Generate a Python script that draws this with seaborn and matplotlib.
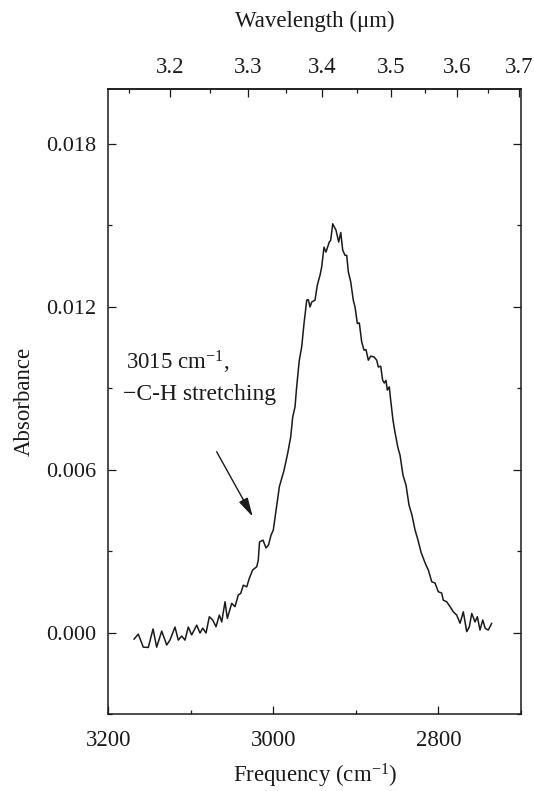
import matplotlib
matplotlib.use("Agg")
import matplotlib.pyplot as plt
from matplotlib.ticker import MultipleLocator, FixedLocator, FormatStrFormatter
import numpy as np
import pandas as pd
import seaborn as sns

# IR absorption spectrum of the C-H stretching band
frequency = [
    3168.9, 3163.7, 3157.6, 3151.5, 3145.8, 3141.4, 3135.3, 3129.2, 3125.3, 3119.2,
    3115.2, 3111.1, 3107.1, 3103.1, 3099.0, 3092.9, 3088.9, 3085.6, 3081.6, 3077.6,
    3073.5, 3069.5, 3065.5, 3062.6, 3058.6, 3055.8, 3050.5, 3046.5, 3042.5, 3039.6,
    3036.4, 3032.3, 3029.2, 3025.1, 3020.2, 3018.3, 3016.8, 3012.6, 3008.9, 3005.9,
    3002.9, 3000.1, 2996.8, 2992.8, 2987.1, 2982.7, 2979.0, 2976.6, 2973.8, 2971.8,
    2968.6, 2965.7, 2962.9, 2959.6, 2957.7, 2955.6, 2953.6, 2949.6, 2946.8, 2943.5,
    2941.5, 2938.7, 2936.3, 2932.3, 2930.6, 2928.1, 2924.1, 2920.9, 2918.4, 2916.0,
    2913.2, 2911.2, 2909.2, 2906.3, 2903.2, 2901.1, 2898.3, 2895.9, 2893.0, 2890.2,
    2887.8, 2885.0, 2882.1, 2878.1, 2874.8, 2872.9, 2870.0, 2867.6, 2865.6, 2863.6,
    2862.0, 2859.6, 2857.9, 2855.1, 2852.7, 2849.0, 2846.6, 2843.0, 2839.3, 2835.7,
    2832.1, 2828.4, 2824.8, 2821.2, 2817.5, 2815.1, 2812.3, 2808.2, 2804.2, 2800.2,
    2796.1, 2794.2, 2790.0, 2786.0, 2782.0, 2777.9, 2773.9, 2769.9, 2765.8, 2762.6,
    2759.7, 2755.7, 2752.9, 2749.7, 2746.4, 2743.3, 2739.6, 2735.5,
]
absorbance = [
    -0.00024, -0.00005, -0.00053, -0.00054, 0.00014, -0.00053, 0.00006, -0.00045, -0.00027, 0.00021,
    -0.00027, -0.00012, -0.00027, 0.00021, -0.00008, 0.00028, -0.00001, 0.00017, -0.00001, 0.00059,
    0.00047, 0.00022, 0.00065, 0.00040, 0.00114, 0.00053, 0.00108, 0.00096, 0.00139, 0.00145,
    0.00175, 0.00169, 0.00200, 0.00231, 0.00243, 0.00267, 0.00334, 0.00341, 0.00312, 0.00323,
    0.00359, 0.00378, 0.00451, 0.00537, 0.00598, 0.00660, 0.00721, 0.00794, 0.00831, 0.00905,
    0.01003, 0.01052, 0.01138, 0.01224, 0.01226, 0.01199, 0.01217, 0.01224, 0.01279, 0.01316,
    0.01346, 0.01419, 0.01401, 0.01438, 0.01444, 0.01505, 0.01481, 0.01438, 0.01473, 0.01408,
    0.01389, 0.01389, 0.01328, 0.01291, 0.01224, 0.01199, 0.01138, 0.01140, 0.01070, 0.01040,
    0.01042, 0.01003, 0.01018, 0.01015, 0.01003, 0.00978, 0.00981, 0.00929, 0.00919, 0.00929,
    0.00893, 0.00905, 0.00856, 0.00782, 0.00738, 0.00679, 0.00654, 0.00580, 0.00543, 0.00470,
    0.00433, 0.00378, 0.00341, 0.00297, 0.00267, 0.00249, 0.00231, 0.00188, 0.00183, 0.00151,
    0.00146, 0.00120, 0.00114, 0.00096, 0.00077, 0.00065, 0.00035, 0.00077, 0.00004, 0.00022,
    0.00071, 0.00040, 0.00059, 0.00010, 0.00047, 0.00016, 0.00010, 0.00035,
]

freq_ticks = [3200, 3000, 2800]
absorb_ticks = [0.000, 0.006, 0.012, 0.018]
wavelength_ticks = [3.2, 3.3, 3.4, 3.5, 3.6, 3.7]
wavelength_minor = [3.15, 3.25, 3.35, 3.45, 3.55, 3.65]

annotation_lines = ["3015 cm$^{-1}$,", "\u2212C-H stretching"]

sns.set_style("ticks")
ink = "#1a1a1a"
plt.rcParams.update({
    "font.family": ["Liberation Serif", "DejaVu Serif"],
    "mathtext.fontset": "custom",
    "mathtext.rm": "Liberation Serif",
    "mathtext.it": "Liberation Serif:italic",
    "mathtext.bf": "Liberation Serif:bold",
    "font.size": 16.5,
    "text.color": ink,
    "axes.labelcolor": ink,
    "xtick.color": ink,
    "ytick.color": ink,
    "axes.edgecolor": ink,
})

fig = plt.figure(figsize=(5.34, 7.91), dpi=100)
ax = fig.add_axes([0.2028, 0.0970, 0.7729, 0.7901])

df = pd.DataFrame({"Frequency": frequency, "Absorbance": absorbance})
sns.lineplot(data=df, x="Frequency", y="Absorbance", ax=ax, color=ink,
             linewidth=1.1, estimator=None, sort=False)

ax.set_xlim(3200, 2700)
ax.set_ylim(-0.003, 0.020)

for s in ax.spines.values():
    s.set_linewidth(1.1)

ax.xaxis.set_major_locator(FixedLocator(freq_ticks))
ax.xaxis.set_minor_locator(MultipleLocator(100))
ax.yaxis.set_major_locator(FixedLocator(absorb_ticks))
ax.yaxis.set_minor_locator(MultipleLocator(0.003))
ax.yaxis.set_major_formatter(FormatStrFormatter("%.3f"))

ax.tick_params(axis="both", which="both", direction="in", width=0.9, labelsize=16.5)
ax.tick_params(axis="y", which="both", labelsize=16)
ax.tick_params(axis="both", which="major", length=6)
ax.tick_params(axis="both", which="minor", length=3)
ax.tick_params(axis="x", which="both", top=False, bottom=True, pad=11)
ax.tick_params(axis="y", which="both", left=True, right=True, pad=9)

ax.set_xlabel("Frequency (cm$^{-1}$)", fontsize=16.5, labelpad=8)
ax.set_ylabel("Absorbance", fontsize=16.5, labelpad=8)

# Wavelength scale along the top edge
sec = ax.secondary_xaxis("top", functions=(lambda f: 1e4 / f, lambda w: 1e4 / w))
sec.xaxis.set_major_locator(FixedLocator(wavelength_ticks))
sec.xaxis.set_minor_locator(FixedLocator(wavelength_minor))
sec.xaxis.set_major_formatter(FormatStrFormatter("%.1f"))
sec.tick_params(axis="x", which="both", direction="in", width=0.9, labelsize=16.5, pad=8)
sec.tick_params(axis="x", which="major", length=6)
sec.tick_params(axis="x", which="minor", length=3)
sec.spines["top"].set_linewidth(1.1)
sec.set_xlabel("Wavelength (\u03bcm)", fontsize=16.5, labelpad=22)

# Band assignment and arrow
ax.text(3178.6, 0.00969, annotation_lines[0], ha="left", va="baseline", fontsize=16.5)
ax.text(3181.8, 0.00858, annotation_lines[1], ha="left", va="baseline", fontsize=17)
ax.annotate("", xy=(3025, 0.00427), xytext=(3068.7, 0.00666),
            arrowprops=dict(arrowstyle="-|>,head_length=0.7,head_width=0.18",
                            color=ink, lw=1.0, shrinkA=0, shrinkB=0))

fig.savefig("out.png", dpi=100)
